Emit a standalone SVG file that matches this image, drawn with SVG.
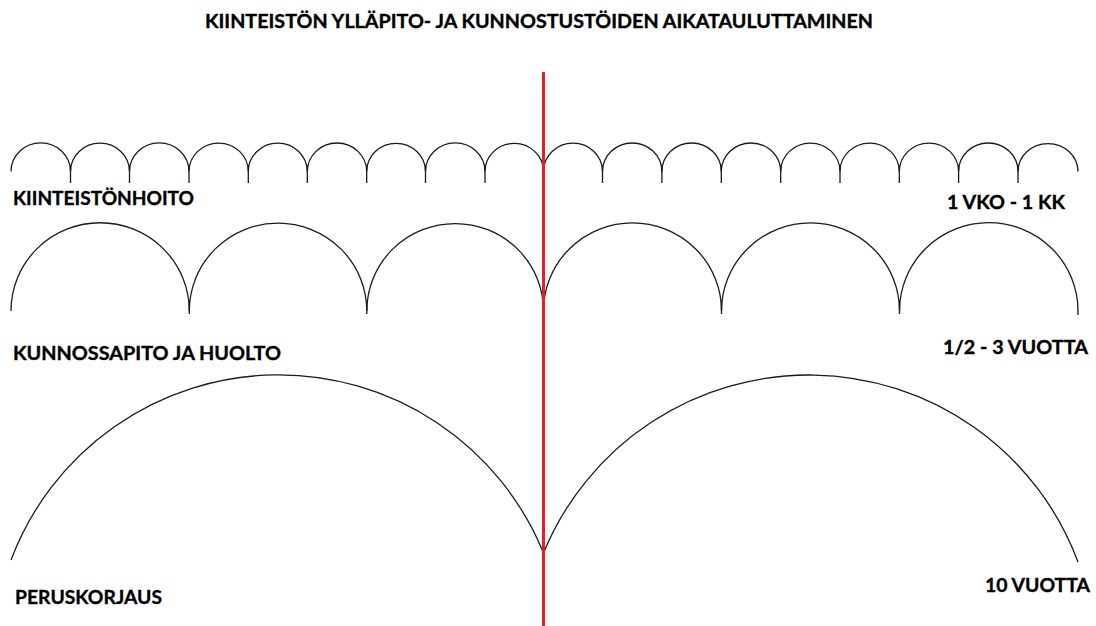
<svg xmlns="http://www.w3.org/2000/svg" width="1096" height="626" viewBox="0 0 1096 626">
  <style>
    .t { font-family: Lato, "Open Sans", "Liberation Sans", sans-serif; font-weight: 700; font-size: 19px; fill: #000; stroke: #000; stroke-width: 0.35; }
    .arc { fill: none; stroke: #1a1a1a; stroke-width: 1.3; }
    .red { stroke: #ed1c24; stroke-width: 3; }
  </style>
  <rect width="1096" height="626" fill="#fff"/>
  <g id="title">
    <text class="t" x="205" y="28" textLength="668" lengthAdjust="spacingAndGlyphs">KIINTEISTÖN YLLÄPITO- JA KUNNOSTUSTÖIDEN AIKATAULUTTAMINEN</text>
  </g>
  <g id="row-kiinteistonhoito">
    <path class="arc" d="M11,171.5 A1,0.96 0 0 1 70.5,171.5 A1,0.96 0 0 1 129.5,171.5 A1,0.96 0 0 1 189,171.5 A1,0.96 0 0 1 248.3,171.5 A1,0.96 0 0 1 307.3,171.5 A1,0.96 0 0 1 366.7,171.5 A1,0.96 0 0 1 425.5,171.5 A1,0.96 0 0 1 485,171.5 A1,0.96 0 0 1 543.5,171.5 A1,0.96 0 0 1 602.5,171.5 A1,0.96 0 0 1 661.9,171.5 A1,0.96 0 0 1 721.3,171.5 A1,0.96 0 0 1 780.7,171.5 A1,0.96 0 0 1 840,171.5 A1,0.96 0 0 1 899.3,171.5 A1,0.96 0 0 1 958.6,171.5 A1,0.96 0 0 1 1018,171.5 A1,0.93 0 0 1 1078,171.5"/>
    <path class="arc" d="M70.5,165V183 M129.5,165V183 M189,165V183 M248.3,165V183 M307.3,165V183 M366.7,165V183 M425.5,165V183 M485,165V183 M543.5,165V183 M602.5,165V183 M661.9,165V183 M721.3,165V183 M780.7,165V183 M840,165V183 M899.3,165V183 M958.6,165V183 M1018,165V183"/>
    <text class="t" x="13" y="205" textLength="181" lengthAdjust="spacingAndGlyphs">KIINTEISTÖNHOITO</text>
    <text class="t" x="947" y="209" textLength="118" lengthAdjust="spacingAndGlyphs">1 VKO - 1 KK</text>
  </g>
  <g id="row-kunnossapito">
    <path class="arc" d="M11,311 A1,0.99 0 0 1 189.3,311 A1,0.99 0 0 1 366.8,311 A1,0.99 0 0 1 543.5,311 A1,0.99 0 0 1 721.5,311 A1,0.99 0 0 1 899.5,311 A1,0.99 0 0 1 1078,311 V315"/>
    <path class="arc" d="M189.3,302V314 M366.8,302V314 M543.5,302V314 M721.5,302V314 M899.5,302V314"/>
    <text class="t" x="13" y="360" textLength="268" lengthAdjust="spacingAndGlyphs">KUNNOSSAPITO JA HUOLTO</text>
    <text class="t" x="943" y="354" textLength="145" lengthAdjust="spacingAndGlyphs">1/2 - 3 VUOTTA</text>
  </g>
  <g id="row-peruskorjaus">
    <path class="arc" d="M11,560 A286,286 0 0 1 543.5,553 A287,287 0 0 1 1078,562"/>
    <text class="t" x="15" y="604" textLength="147" lengthAdjust="spacingAndGlyphs">PERUSKORJAUS</text>
    <text class="t" x="985" y="592" textLength="105" lengthAdjust="spacingAndGlyphs">10 VUOTTA</text>
  </g>
  <g id="connectors">
    <line class="red" x1="543.5" y1="72" x2="543.5" y2="626"/>
  </g>
</svg>
